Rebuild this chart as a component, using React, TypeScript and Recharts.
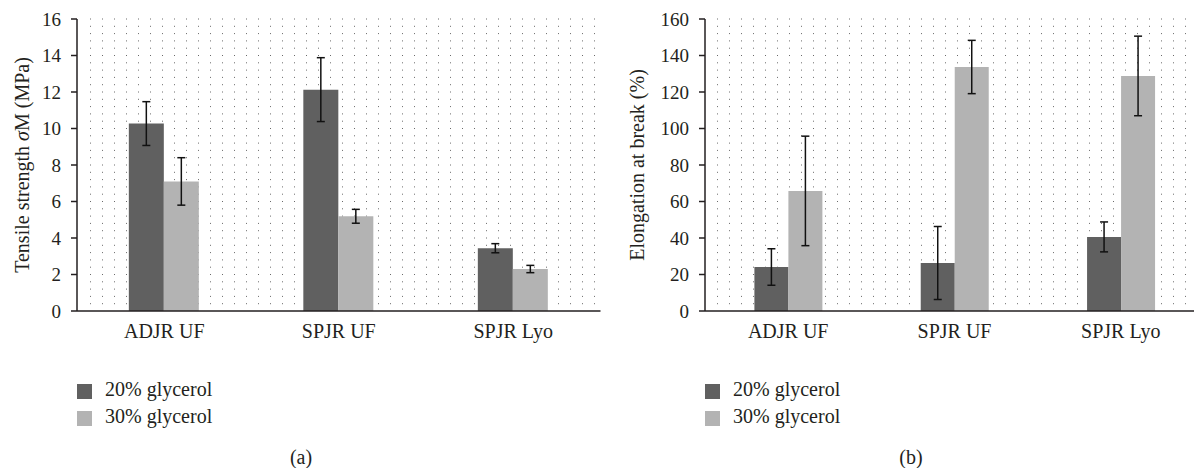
import React from 'react';
import { BarChart, Bar, XAxis, YAxis, CartesianGrid, ErrorBar } from 'recharts';

const categories = ['ADJR UF', 'SPJR UF', 'SPJR Lyo'];
const seriesNames = ['20% glycerol', '30% glycerol'];
const seriesColors = ['#606060', '#b3b3b3'];

const tensile20 = [10.27, 12.13, 3.44];
const tensile20Err = [1.2, 1.75, 0.25];
const tensile30 = [7.1, 5.19, 2.3];
const tensile30Err = [1.3, 0.38, 0.2];

const elong20 = [24.1, 26.3, 40.6];
const elong20Err = [10, 20, 8.2];
const elong30 = [65.8, 133.7, 128.8];
const elong30Err = [30, 14.6, 21.8];

const tensileTicks = [0, 2, 4, 6, 8, 10, 12, 14, 16];
const elongTicks = [0, 20, 40, 60, 80, 100, 120, 140, 160];

const FONT = 'Liberation Serif';
const FS = 20;
const INK = '#231f20';

const buildData = (a: number[], aErr: number[], b: number[], bErr: number[]) =>
  categories.map((name, i) => ({ name, a: a[i], aErr: aErr[i], b: b[i], bErr: bErr[i] }));

const tensileData = buildData(tensile20, tensile20Err, tensile30, tensile30Err);
const elongData = buildData(elong20, elong20Err, elong30, elong30Err);

type PanelProps = {
  data: any[];
  ticks: number[];
  yLabel: React.ReactNode;
  left: number;
  width: number;
  yAxisWidth: number;
  marginRight: number;
  labelX: number;
  dotStart: number;
};

const CHART_H = 345;
const PLOT_TOP = 19;
const PLOT_BOTTOM = 311;

function Panel({ data, ticks, yLabel, left, width, yAxisWidth, marginRight, labelX, dotStart }: PanelProps) {
  const rows = 40;
  return (
    <div style={{ position: 'absolute', left, top: 0, fontFamily: FONT }}>
      <BarChart
        width={width}
        height={CHART_H}
        data={data}
        margin={{ top: PLOT_TOP, right: marginRight, bottom: 0, left: 0 }}
        barCategoryGap="29.7%"
        barGap={0}
        style={{ fontFamily: FONT }}
      >
        <CartesianGrid
          vertical={false}
          horizontalCoordinatesGenerator={({ offset }: any) =>
            Array.from({ length: rows }, (_, i) => offset.top + (i * offset.height) / rows)
          }
          horizontal={(p: any) => (
            <line
              key={p.key}
              x1={p.x1 + dotStart}
              y1={p.y1}
              x2={p.x2 - 2}
              y2={p.y2}
              stroke="#6a6a6a"
              strokeWidth={1}
              strokeDasharray="1 11"
            />
          )}
        />
        <XAxis
          dataKey="name"
          tickLine={false}
          tickSize={0}
          tickMargin={13}
          height={CHART_H - PLOT_BOTTOM}
          axisLine={{ stroke: INK, strokeWidth: 1.5 }}
          tick={{ fontSize: FS, fontFamily: FONT, fill: INK }}
        />
        <YAxis
          width={yAxisWidth}
          domain={[ticks[0], ticks[ticks.length - 1]]}
          ticks={ticks}
          interval={0}
          tickSize={6}
          tickMargin={10}
          axisLine={{ stroke: INK, strokeWidth: 1.5 }}
          tickLine={{ stroke: INK, strokeWidth: 1.5 }}
          tick={{ fontSize: FS - 1, fontFamily: FONT, fill: INK }}
          label={(props: any) => {
            const vb = props.viewBox || {};
            const cy = (vb.y ?? PLOT_TOP) + (vb.height ?? PLOT_BOTTOM - PLOT_TOP) / 2;
            return (
              <text
                x={labelX}
                y={cy}
                transform={`rotate(-90 ${labelX} ${cy})`}
                textAnchor="middle"
                dominantBaseline="central"
                fontSize={FS}
                fontFamily={FONT}
                fill={INK}
              >
                {yLabel}
              </text>
            );
          }}
        />
        <Bar dataKey="a" name={seriesNames[0]} fill={seriesColors[0]} isAnimationActive={false}>
          <ErrorBar dataKey="aErr" width={4} stroke="#111" strokeWidth={1.5} />
        </Bar>
        <Bar dataKey="b" name={seriesNames[1]} fill={seriesColors[1]} isAnimationActive={false}>
          <ErrorBar dataKey="bErr" width={4} stroke="#111" strokeWidth={1.5} />
        </Bar>
      </BarChart>
    </div>
  );
}

function LegendAndCaption({ x, captionX, caption }: { x: number; captionX: number; caption: string }) {
  return (
    <g>
      {seriesNames.map((n, i) => (
        <g key={n}>
          <rect x={x} y={384 + i * 27} width={15} height={15} fill={seriesColors[i]} />
          <text x={x + 28} y={396 + i * 27} fontSize={FS} fontFamily={FONT} fill={INK}>
            {n}
          </text>
        </g>
      ))}
      <text x={captionX} y={464} textAnchor="middle" fontSize={FS} fontFamily={FONT} fill={INK}>
        {caption}
      </text>
    </g>
  );
}

export default function App() {
  return (
    <div
      style={{
        position: 'absolute',
        left: 0,
        top: 0,
        width: 1194,
        height: 468,
        overflow: 'hidden',
        background: '#fff',
        fontFamily: FONT,
      }}
    >
      <Panel
        data={tensileData}
        ticks={tensileTicks}
        yLabel={
          <>
            <tspan>Tensile strength </tspan>
            <tspan fontStyle="italic">σ</tspan>
            <tspan>M (MPa)</tspan>
          </>
        }
        left={0}
        width={620}
        yAxisWidth={77}
        marginRight={19.5}
        labelX={22}
        dotStart={13}
      />
      <Panel
        data={elongData}
        ticks={elongTicks}
        yLabel="Elongation at break (%)"
        left={594}
        width={616}
        yAxisWidth={111}
        marginRight={6}
        labelX={43}
        dotStart={12}
      />
      <svg
        width={1194}
        height={468}
        style={{ position: 'absolute', left: 0, top: 0, pointerEvents: 'none' }}
      >
        <LegendAndCaption x={77} captionX={301} caption="(a)" />
        <LegendAndCaption x={705} captionX={911} caption="(b)" />
      </svg>
    </div>
  );
}
